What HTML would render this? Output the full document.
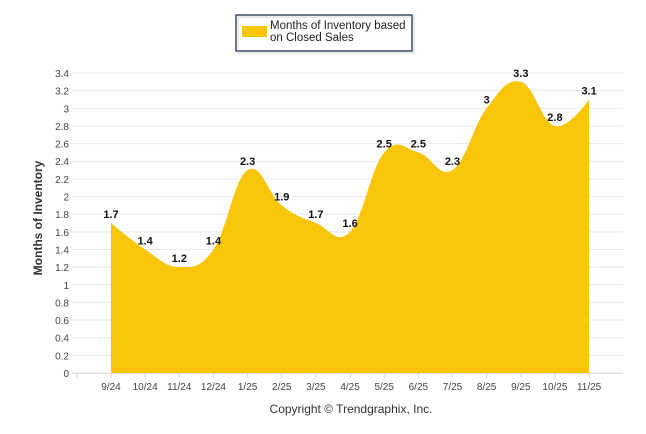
<!DOCTYPE html>
<html><head><meta charset="utf-8"><style>
body{margin:0;background:#fff;font-family:"Liberation Sans",Arial,sans-serif;}
svg{display:block}
</style></head><body>
<svg width="646" height="434" id="c">
<g>
<rect x="236" y="15" width="176" height="36" fill="#fff" stroke="#1f3050" stroke-width="1.3"/>
<rect x="238" y="17" width="176" height="36" fill="none" stroke="#aaa" stroke-width="1" opacity="0.5"/>
<rect x="242" y="26" width="25" height="11" fill="#F8C508"/>
<text x="270" y="29" font-size="11.5" fill="#222">Months of Inventory based</text>
<text x="270" y="41" font-size="11.5" fill="#222">on Closed Sales</text>
</g>
<text transform="translate(42,218) rotate(-90)" text-anchor="middle" font-size="12" font-weight="bold" fill="#333">Months of Inventory</text>
<text x="351" y="413" text-anchor="middle" font-size="12" fill="#333">Copyright © Trendgraphix, Inc.</text>
<g id="grid"></g><g id="area"></g><g id="labels"></g>
</svg>
<script>
const categories=["9/24","10/24","11/24","12/24","1/25","2/25","3/25","4/25","5/25","6/25","7/25","8/25","9/25","10/25","11/25"];
const values=[1.7,1.4,1.2,1.4,2.3,1.9,1.7,1.6,2.5,2.5,2.3,3,3.3,2.8,3.1];
const yTicks=[0,0.2,0.4,0.6,0.8,1,1.2,1.4,1.6,1.8,2,2.2,2.4,2.6,2.8,3,3.2,3.4];
const NS="http://www.w3.org/2000/svg";
const x0=111,step=34.15,yb=373,yt=73,ymax=3.4,left=72,right=623;
const X=i=>x0+i*step, Y=v=>yb-(v/ymax)*(yb-yt);
function mk(t,a,p){const e=document.createElementNS(NS,t);for(const k in a)e.setAttribute(k,a[k]);p.appendChild(e);return e;}
const g=document.getElementById('grid');
yTicks.forEach(v=>{
 const l=mk('line',{x1:left,x2:right,y1:Y(v),y2:Y(v),stroke:'#e8e8e8','stroke-width':1},g);
 
 
 const t=mk('text',{x:left-3,y:Y(v)+4,'text-anchor':'end','font-size':'10',fill:'#444'},g);
 t.textContent=String(v);
 
 
});
mk('line',{x1:left,x2:right,y1:yb+0.5,y2:yb+0.5,stroke:'#ddd'},g);
for(let i=-1;i<categories.length;i++){mk('line',{x1:X(i),x2:X(i),y1:yb,y2:yb+5,stroke:'#ddd'},g);}
categories.forEach((c,i)=>{
 const t=mk('text',{x:X(i),y:yb+17,'text-anchor':'middle','font-size':'10',fill:'#444'},g);
 t.textContent=c;
 
 
});
const pts=values.map((v,i)=>[X(i),Y(v)]);
const n=pts.length;
function ctrl(i){
 const [px,py]=pts[i];
 if(i==0||i==n-1)return [px,py,px,py];
 const [lx,ly]=pts[i-1],[nx,ny]=pts[i+1];
 const s=1.5,dn=2.5;
 let lcx=(s*px+lx)/dn,lcy=(s*py+ly)/dn,rcx=(s*px+nx)/dn,rcy=(s*py+ny)/dn;
 const corr=((rcy-lcy)*(rcx-px))/(rcx-lcx)+py-rcy;
 lcy+=corr;rcy+=corr;
 return [lcx,lcy,rcx,rcy];
}
const C=pts.map((_,i)=>ctrl(i));
let p=`M${pts[0][0]},${yb}L${pts[0][0]},${pts[0][1]}`;
for(let i=0;i<n-1;i++){p+=`C${C[i][2]},${C[i][3]} ${C[i+1][0]},${C[i+1][1]} ${pts[i+1][0]},${pts[i+1][1]}`;}
p+=`L${pts[n-1][0]},${yb}Z`;
const a=mk('path',{d:p,fill:'#F8C508'},document.getElementById('area'));


const L=document.getElementById('labels');
values.forEach((v,i)=>{
 const t=mk('text',{x:X(i),y:Y(v)-5,'text-anchor':'middle','font-size':'11','font-weight':'bold',fill:'#111'},L);
 t.textContent=String(v);
 
 
});
</script>
</body></html>
